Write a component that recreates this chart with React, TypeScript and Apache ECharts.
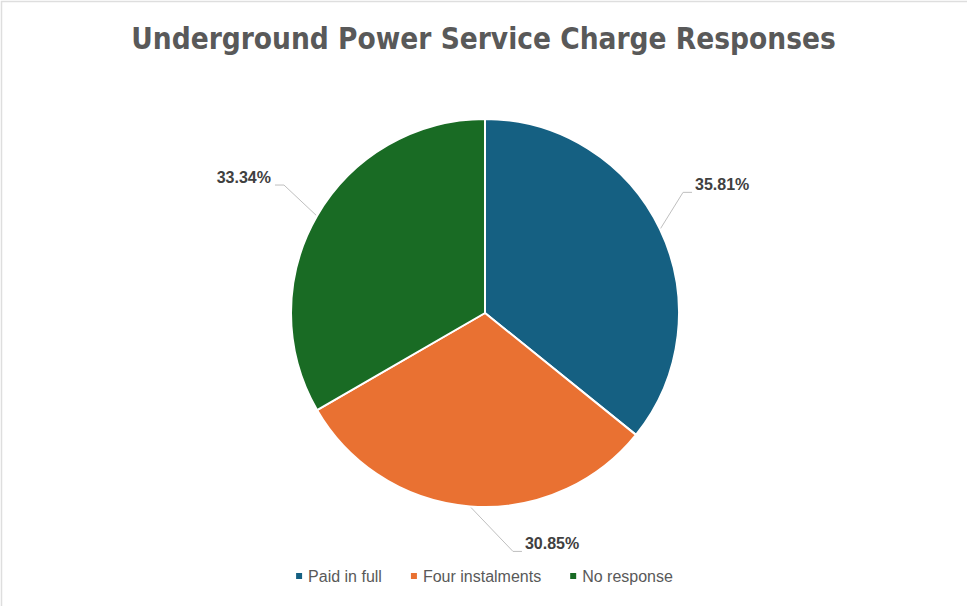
import React, { useEffect, useRef } from "react";
import * as echarts from "echarts";

const chartTitle = "Underground Power Service Charge Responses";
const categories = ["Paid in full", "Four instalments", "No response"];
const shares = [35.81, 30.85, 33.34];
const colors = ["#156082", "#E97132", "#196B24"];

// Leader line bends (dx, dy from the slice edge) and horizontal tail per slice
const leaderBends: [number, number][] = [
  [23, -37],
  [43, 45],
  [-33, -31],
];
const leaderTail = 9;

export default function App() {
  const ref = useRef<HTMLDivElement>(null);

  useEffect(() => {
    if (!ref.current) return;
    const chart = echarts.init(ref.current, null, { renderer: "svg" });
    const W = 967;
    const H = 606;

    chart.setOption({
      animation: false,
      backgroundColor: "#ffffff",
      title: {
        text: chartTitle,
        left: "center",
        top: 19,
        textStyle: {
          fontFamily: "'DejaVu Sans Condensed', 'Liberation Sans Narrow', sans-serif",
          fontSize: 29.5,
          fontWeight: "bold",
          color: "#595959",
        },
      },
      legend: {
        bottom: 17,
        left: "center",
        itemWidth: 8,
        itemHeight: 8,
        itemGap: 27,
        icon: "rect",
        textStyle: {
          fontFamily: "'Liberation Sans', Arial, sans-serif",
          fontSize: 16,
          color: "#595959",
        },
        data: categories,
      },
      graphic: [
        {
          type: "rect",
          shape: { x: 1.5, y: 1.5, width: W, height: H },
          style: { fill: "none", stroke: "#dedede", lineWidth: 1.5 },
          silent: true,
        },
      ],
      series: [
        {
          type: "pie",
          center: [485, 313],
          radius: 194,
          startAngle: 90,
          clockwise: true,
          avoidLabelOverlap: false,
          itemStyle: { borderColor: "#ffffff", borderWidth: 2 },
          label: {
            show: true,
            position: "outside",
            formatter: (p: any) => p.value.toFixed(2) + "%",
            fontFamily: "'Liberation Sans', Arial, sans-serif",
            fontSize: 16,
            fontWeight: "bold",
            color: "#404040",
          },
          labelLine: {
            show: true,
            length: 20,
            length2: 10,
            lineStyle: { color: "#bfbfbf", width: 1 },
          },
          labelLayout: (params: any) => {
            const pts = params.labelLinePoints;
            if (!pts) return {};
            const p0 = pts[0];
            const [bx, by] = leaderBends[params.dataIndex];
            const p1 = [p0[0] + bx, p0[1] + by];
            const dir = bx >= 0 ? 1 : -1;
            const p2 = [p1[0] + dir * leaderTail, p1[1]];
            const w = params.labelRect.width;
            const h = params.labelRect.height;
            return {
              x: dir > 0 ? p2[0] + 3 : p2[0] - 4 - w,
              y: p2[1] - h,
              align: "left",
              verticalAlign: "top",
              labelLinePoints: [p0, p1, p2],
            };
          },
          data: categories.map((name, i) => ({
            name,
            value: shares[i],
            itemStyle: { color: colors[i] },
          })),
        },
      ],
    });

    return () => chart.dispose();
  }, []);

  return (
    <div
      ref={ref}
      style={{ position: "fixed", left: 0, top: 0, width: 967, height: 606 }}
    />
  );
}
